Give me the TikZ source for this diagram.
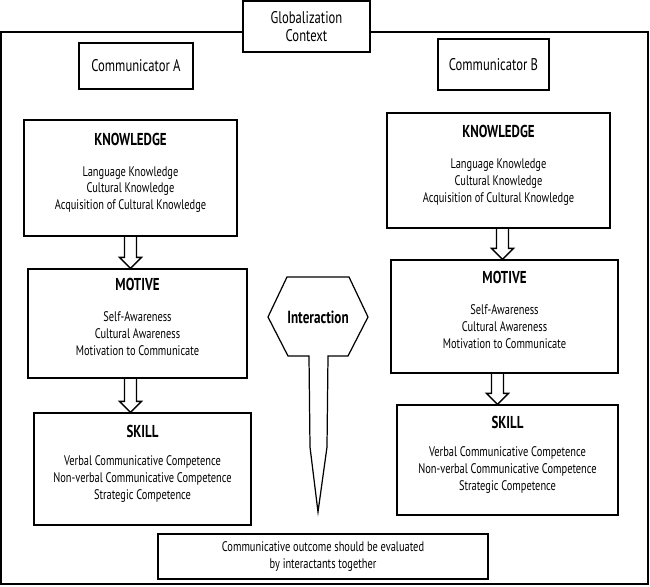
\documentclass[tikz,border=0pt]{standalone}
\usepackage{fontspec}
\setmainfont{PT Sans}[FakeStretch=0.75]
\usetikzlibrary{calc}

\newcommand{\boxhead}[1]{{\fontsize{9.8}{11}\selectfont\bfseries #1}}

\begin{document}
\begin{tikzpicture}[x=0.02cm, y=-0.02cm,
        txtbox/.style={rectangle, draw, line width=0.8pt, fill=white, align=center, font=\fontsize{7.9}{9.6}\selectfont},
        namebox/.style={rectangle, draw, line width=0.8pt, fill=white, align=center, font=\fontsize{9.6}{10.5}\selectfont},
        hollowarrow/.style={line width=0.8pt, to path={let \p1=(\tikztostart), \p2=(\tikztotarget) in
            (\x1-3.4pt,\y1) -- (\x1-3.4pt,\y2+6.2pt) -- (\x1-6.2pt,\y2+6.2pt) -- (\x1,\y2)
            -- (\x1+6.2pt,\y2+6.2pt) -- (\x1+3.4pt,\y2+6.2pt) -- (\x1+3.4pt,\y1)}}
    ]
        \useasboundingbox (0,0) rectangle (650,587);
        % frame of the whole setting
        \draw[line width=0.8pt] (1,32) rectangle (648,584);
        \node[namebox, minimum width=2.54cm, minimum height=1.02cm] (glob) at (306.5,26.5) {Globalization\\Context};
        \node[namebox, minimum width=2.28cm, minimum height=0.92cm] (commA) at (136,66) {Communicator A};
        \node[namebox, minimum width=2.22cm, minimum height=1.02cm] (commB) at (493.5,64.5) {Communicator B};

        % communicator A
        \node[txtbox, minimum width=4.26cm, minimum height=2.32cm] (knowA) at (130.5,178) {\boxhead{KNOWLEDGE}\\[8pt] Language Knowledge\\ Cultural Knowledge\\ Acquisition of Cultural Knowledge\\[-2pt]};
        \node[txtbox, minimum width=4.38cm, minimum height=2.18cm] (motA) at (137.5,323.5) {\boxhead{MOTIVE}\\[8pt] Self-Awareness\\ Cultural Awareness\\ Motivation to Communicate\\[-2pt]};
        \node[txtbox, minimum width=4.34cm, minimum height=2.24cm] (skillA) at (142.5,469) {\boxhead{SKILL}\\[6pt] Verbal Communicative Competence\\ Non-verbal Communicative Competence\\ Strategic Competence\\[-2pt]};

        % communicator B
        \node[txtbox, minimum width=4.46cm, minimum height=2.30cm] (knowB) at (498.5,170.5) {\boxhead{KNOWLEDGE}\\[8pt] Language Knowledge\\ Cultural Knowledge\\ Acquisition of Cultural Knowledge\\[-2pt]};
        \node[txtbox, minimum width=4.54cm, minimum height=2.26cm] (motB) at (504.5,316.5) {\boxhead{MOTIVE}\\[8pt] Self-Awareness\\ Cultural Awareness\\ Motivation to Communicate\\[-2pt]};
        \node[txtbox, minimum width=4.42cm, minimum height=2.20cm] (skillB) at (507.5,460) {\boxhead{SKILL}\\[6pt] Verbal Communicative Competence\\ Non-verbal Communicative Competence\\ Strategic Competence\\[-2pt]};

        \node[txtbox, minimum width=6.6cm, minimum height=0.9cm] (outcome) at (323,556.5) {Communicative outcome should be evaluated\\ by interactants together};

        % interaction pin
        \draw[line width=0.7pt] (287,277) -- (349,277) -- (368,317) -- (348,356) -- (328,356) -- (327,447)
            -- (318,512) -- (310,447) -- (309,356) -- (288,356) -- (268,317) -- cycle;
        \node[font=\fontsize{10}{11}\selectfont\bfseries] (inter) at (318,317) {Interaction};

        \draw[hollowarrow] (knowA.south) to (motA.north -| knowA.south);
        \draw[hollowarrow] (motA.south -| knowA.south) to (skillA.north -| knowA.south);
        \draw[hollowarrow] ([xshift=0.08cm]knowB.south) to ([xshift=0.08cm]motB.north -| knowB.south);
        \draw[hollowarrow] ([xshift=-0.14cm]motB.south) to ([xshift=-0.14cm]skillB.north -| motB.south);
    \end{tikzpicture}
\end{document}
